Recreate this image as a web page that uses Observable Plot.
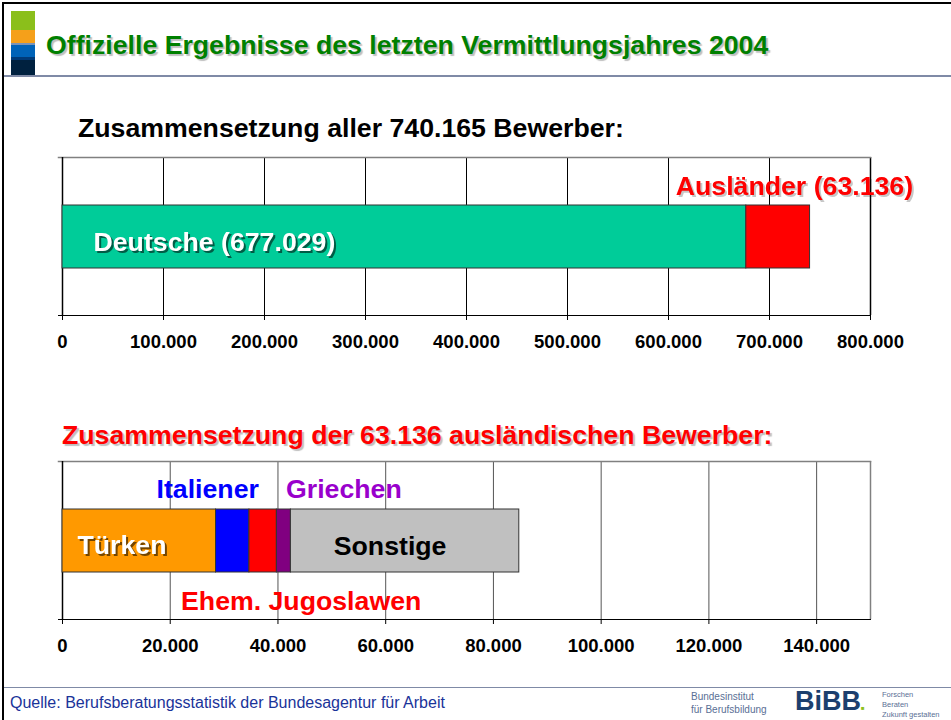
<!DOCTYPE html>
<html>
<head>
<meta charset="utf-8">
<script src="https://cdn.jsdelivr.net/npm/d3@7"></script>
<script src="https://cdn.jsdelivr.net/npm/@observablehq/plot@0.6"></script>
<style>
  html, body { margin: 0; padding: 0; background: #fff; }
  #page { position: relative; width: 951px; height: 720px; overflow: hidden; background: #fff;
          font-family: "Liberation Sans", Arial, sans-serif; }
  .abs { position: absolute; white-space: nowrap; }
  .title { left: 46px; top: 30px; font-size: 26.7px; line-height: 30px; font-weight: bold; color: #008000;
           text-shadow: 2px 2px 1px rgba(0,0,0,0.25); }
  .sub1 { left: 78px; top: 113px; font-size: 26.7px; line-height: 30px; font-weight: bold; color: #000; }
  .sub2 { left: 62px; top: 420px; font-size: 26.7px; line-height: 30px; font-weight: bold; color: #ff0000;
          text-shadow: 2px 2px 1px rgba(0,0,0,0.25); }
  .footer { left: 10px; top: 694px; font-size: 16px; line-height: 18px; color: #1a3399; }
  .chart { position: absolute; left: 0; }
  .logo-small { font-size: 10px; line-height: 13px; color: #5a6f95; }
</style>
</head>
<body>
<div id="page">
  <!-- slide frame -->
  <div class="abs" style="left:2px;top:2px;width:949px;height:2px;background:#000"></div>
  <div class="abs" style="left:2px;top:2px;width:2px;height:718px;background:#000"></div>
  <!-- colour blocks -->
  <div class="abs" style="left:11px;top:11px;width:24px;height:19px;background:#8bbf1b"></div>
  <div class="abs" style="left:11px;top:30px;width:24px;height:13px;background:#f5a01a"></div>
  <div class="abs" style="left:11px;top:43px;width:24px;height:2px;background:#7a93b8"></div>
  <div class="abs" style="left:11px;top:45px;width:24px;height:12px;background:#0063b8"></div>
  <div class="abs" style="left:11px;top:57px;width:24px;height:3px;background:#003a78"></div>
  <div class="abs" style="left:11px;top:60px;width:24px;height:16px;background:#00213f"></div>
  <div class="abs" style="left:4px;top:75px;width:947px;height:2px;background:#7f8aa6"></div>
  <div class="abs" style="left:4px;top:687px;width:947px;height:1px;background:#7f8aa6"></div>

  <div class="abs title" id="title"></div>
  <div class="abs sub1" id="sub1"></div>
  <div class="abs sub2" id="sub2"></div>
  <div class="chart" id="chart1" style="top:140px"></div>
  <div class="chart" id="chart2" style="top:444px"></div>
  <div class="abs footer" id="footer"></div>

  <!-- logo -->
  <div class="abs logo-small" style="left:691px;top:690px">Bundesinstitut<br>für Berufsbildung</div>
  <div class="abs" style="left:795px;top:688px;font-size:27px;line-height:27px;font-weight:bold;color:#1c3f6e">BiBB<span style="font-size:6px;color:#8bbf1b">■</span></div>
  <div class="abs logo-small" style="left:882px;top:690px;font-size:7.5px;line-height:10px">Forschen<br>Beraten<br>Zukunft gestalten</div>
</div>
<script>
// ---------- data ----------
const titleText = "Offizielle Ergebnisse des letzten Vermittlungsjahres 2004";
const subtitle1 = "Zusammensetzung aller 740.165 Bewerber:";
const subtitle2 = "Zusammensetzung der 63.136 ausländischen Bewerber:";
const sourceText = "Quelle: Berufsberatungsstatistik der Bundesagentur für Arbeit";

const topCategories = ["Deutsche", "Ausländer"];
const topValues = [677029, 63136];
const topLabels = ["Deutsche (677.029)", "Ausländer (63.136)"];
const topColors = ["#00cc99", "#ff0000"];
const topTicks = [0, 100000, 200000, 300000, 400000, 500000, 600000, 700000, 800000];

const subCategories = ["Türken", "Italiener", "Ehem. Jugoslawen", "Griechen", "Sonstige"];
const subValues = [28500, 6200, 5100, 2600, 42400];
const subColors = ["#ff9900", "#0000ff", "#ff0000", "#800080", "#c0c0c0"];
const subLabelColors = ["#ffffff", "#0000ff", "#ff0000", "#9900cc", "#000000"];
const subTicks = [0, 20000, 40000, 60000, 80000, 100000, 120000, 140000];

// ---------- text ----------
document.getElementById("title").textContent = titleText;
document.getElementById("sub1").textContent = subtitle1;
document.getElementById("sub2").textContent = subtitle2;
document.getElementById("footer").textContent = sourceText;

const de = d3.formatLocale({decimal: ",", thousands: ".", grouping: [3], currency: ["", " €"]});
const fmt = de.format(",");
const FONT = "'Liberation Sans', Arial, sans-serif";
const LABEL_SIZE = 26.7;

function rows(cats, vals) {
  let acc = 0;
  return cats.map((c, i) => {
    const r = {group: "all", cat: c, value: vals[i], start: acc, end: acc + vals[i]};
    r.mid = (r.start + r.end) / 2;
    acc += vals[i];
    return r;
  });
}

function label(row, text, key, opts) {
  return Plot.text([row], {
    x: key, y: "group", text: () => text, fontSize: LABEL_SIZE, fontWeight: "bold",
    fontFamily: FONT, textAnchor: opts.anchor || "middle",
    dx: opts.dx || 0, dy: opts.dy || 0, fill: opts.fill,
    ariaDescription: opts.shadow ? "shadow-" + opts.shadow : undefined
  });
}

function addShadows(svg) {
  d3.select(svg).selectAll("[aria-description='shadow-strong']")
    .style("filter", "drop-shadow(2px 2px 0.6px rgba(0,0,0,0.55))");
  d3.select(svg).selectAll("[aria-description='shadow-light']")
    .style("filter", "drop-shadow(2px 2px 0.6px rgba(0,0,0,0.22))");
  return svg;
}

function chart(data, cats, colors, ticks, xmax, gridColor, rightColor, labelMarks) {
  return addShadows(Plot.plot({
    width: 951, height: 228,
    marginLeft: 62, marginRight: 81, marginTop: 17, marginBottom: 53,
    style: {fontFamily: FONT, color: "#000", background: "transparent"},
    x: {domain: [0, xmax], ticks, tickFormat: fmt, label: null},
    y: {domain: ["all"], padding: 0.43, axis: null},
    color: {domain: cats, range: colors},
    marks: [
      Plot.gridX({ticks: ticks.filter(t => t > 0), stroke: gridColor, strokeOpacity: 1, strokeWidth: 1}),
      Plot.ruleX([xmax], {stroke: rightColor, strokeWidth: 1.5}),
      Plot.frame({anchor: "top", stroke: "#808080", strokeWidth: 1.5, insetLeft: -4}),
      Plot.frame({anchor: "bottom", stroke: "#000", strokeWidth: 1, insetLeft: -4}),
      Plot.ruleX([0], {stroke: "#000", strokeWidth: 1.5}),
      Plot.axisX({ticks, tickFormat: fmt, tickSize: 5, tickPadding: 14, fontSize: 18.5,
                  fontWeight: "bold", label: null, stroke: "#000"}),
      Plot.barX(data, {x1: "start", x2: "end", y: "group", fill: "cat", stroke: "#333", strokeWidth: 1}),
      ...labelMarks
    ]
  }));
}

const topRows = rows(topCategories, topValues);
const topMarks = [
  label(topRows[0], topLabels[0], "start", {anchor: "start", dx: 31, dy: 5, fill: "#fff", shadow: "strong"}),
  label(topRows[1], topLabels[1], "end", {anchor: "end", dx: 103, dy: -51, fill: "#ff0000", shadow: "light"})
];
document.getElementById("chart1").append(
  chart(topRows, topCategories, topColors, topTicks, 800000, "#000", "#000", topMarks));

const subRows = rows(subCategories, subValues);
const subMarks = [
  label(subRows[0], subCategories[0], "start", {anchor: "start", dx: 15, dy: 4, fill: subLabelColors[0], shadow: "strong"}),
  label(subRows[1], subCategories[1], "mid", {dx: -25, dy: -52, fill: subLabelColors[1]}),
  label(subRows[2], subCategories[2], "mid", {dx: 38, dy: 60, fill: subLabelColors[2]}),
  label(subRows[3], subCategories[3], "mid", {dx: 60, dy: -52, fill: subLabelColors[3]}),
  label(subRows[4], subCategories[4], "mid", {dx: -15, dy: 5, fill: subLabelColors[4]})
];
document.getElementById("chart2").append(
  chart(subRows, subCategories, subColors, subTicks, 150000, "#555", "#808080", subMarks));
</script>
</body>
</html>
